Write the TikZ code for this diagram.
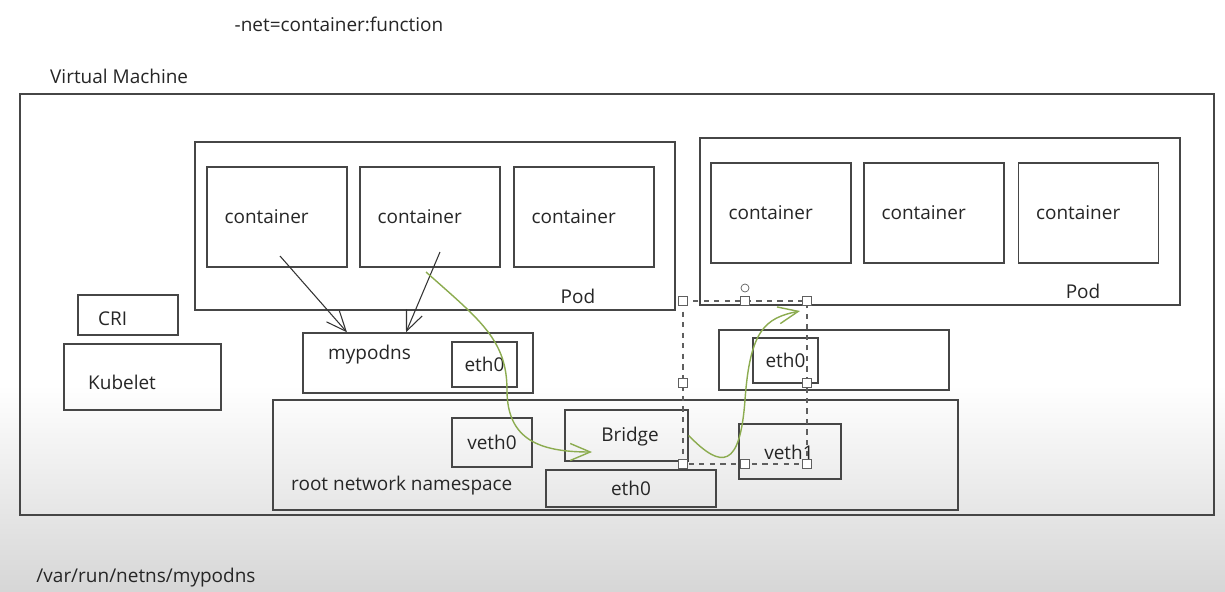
\documentclass[tikz,border=0pt]{standalone}
\usepackage{fontspec}
\setmainfont{Open Sans}
\usetikzlibrary{arrows.meta}
\definecolor{boxLine}{RGB}{70,70,70}
\definecolor{pathGreen}{RGB}{140,172,80}
\definecolor{handleLine}{RGB}{95,95,95}
\definecolor{floorGray}{RGB}{214,214,214}

\begin{document}
\begin{tikzpicture}[
  x=0.02cm, y=-0.02cm,
  every node/.style={font=\fontsize{10.8}{13}\selectfont, text=black!85},
  box/.style={draw=boxLine, line width=0.8pt, inner sep=0pt},
  container box/.style={box, minimum width=2.8cm, minimum height=2cm},
  pod box/.style={box, minimum width=9.6cm, minimum height=3.36cm},
  ns box/.style={box, minimum width=4.6cm, minimum height=1.2cm},
  eth box/.style={box, minimum width=1.3cm, minimum height=0.9cm},
  link/.style={draw=black!80, line width=0.6pt,
    -{Straight Barb[length=4mm,width=3.4mm]}},
  flow/.style={draw=pathGreen, line width=0.8pt,
    -{Straight Barb[length=4mm,width=3.4mm]}},
  handle/.style={draw=handleLine, fill=white, line width=0.4pt,
    minimum size=0.18cm, inner sep=0pt},
  selection/.style={draw=handleLine, dashed, line width=0.6pt}
]
\useasboundingbox (0,0) rectangle (1225,592);
% background of the screenshot
\fill[white] (0,0) rectangle (1225,592);
\shade[top color=white, bottom color=floorGray] (0,385) rectangle (1225,592);

% outer machine
\node[box, minimum width=23.88cm, minimum height=8.42cm] (vm) at (617,304.5) {};
\node[anchor=west] (vmlabel) at (44,76) {Virtual Machine};
\node (netflag) at (339,24) {-net=container:function};
\node (netnspath) at (146,578) {/var/run/netns/mypodns};

% pods and their containers
\node[pod box] (pod1) at (435,226) {};
\foreach \k/\x in {1/277,2/430,3/584}
  \node[container box, text width=2.1cm] (c1\k) at (\x,217) {container};
\node (pod1label) at (578,296) {Pod};
\node[pod box, minimum height=3.34cm] (pod2) at (940,221.5) {};
\foreach \k/\x in {1/781,2/934,3/1088.5}
  \node[container box, text width=2.1cm] (c2\k) at (\x,213) {container};
\node (pod2label) at (1083,291) {Pod};

% node agents
\node[box, minimum width=2cm, minimum height=0.8cm] (cri) at (128,315) {};
\node[anchor=west] (crilabel) at (92,319) {CRI};
\node[box, minimum width=3.14cm, minimum height=1.32cm] (kubelet) at (142.5,377) {};
\node[anchor=west] (kubeletlabel) at (82,382) {Kubelet};

% namespaces
\node[ns box] (mypodns) at (418,363) {};
\node[anchor=west] (mypodnslabel) at (322,355) {mypodns};
\node[eth box] (eth0a) at (484.5,364.5) {eth0};
\node[ns box] (pod2ns) at (834,360) {};
\node[eth box] (eth0b) at (785.5,360.5) {eth0};

\node[box, minimum width=13.7cm, minimum height=2.2cm] (rootns) at (615.5,455) {};
\node[anchor=west] (rootlabel) at (285,486) {root network namespace};
\node[box, minimum width=1.6cm, minimum height=0.98cm] (veth0) at (492,442.5) {veth0};
\node[box, minimum width=2.46cm, minimum height=1.02cm] (bridge) at (626.5,435.5) {};
\node (bridgelabel) at (630,437) {Bridge};
\node[box, minimum width=3.4cm, minimum height=0.74cm] (eth0root) at (631,488.5) {eth0};
\node[box, minimum width=2.04cm, minimum height=1.1cm] (veth1) at (790,451.5) {};
\node (veth1label) at (789,452) {veth1};

% containers share mypodns
\coordinate (c11out) at (280,256);
\coordinate (c12out) at (440,252);
\draw[link] (c11out) -- (mypodns.north west -| 347,0);
\draw[link] (c12out) -- (mypodns.north west -| 406,0);

% packet path
\coordinate (flowstart) at (426,272);
\coordinate (bridgein) at (592,452);
\coordinate (pod2in) at (800,311);
\draw[flow] (flowstart) .. controls (480,320) and (507,340) .. (507,390)
  .. controls (507,440) and (540,452) .. (bridgein);
\draw[flow] (bridge.east) .. controls (722,470) and (740,468) .. (745,400)
  .. controls (750,330) and (765,318) .. (pod2in);

% selection frame
\draw[selection] (683,301) rectangle (807,464);
\foreach \x/\y in {683/301,745/301,807/301,683/383,807/383,683/464,745/464,807/464}
  \node[handle] (h\x-\y) at (\x,\y) {};
\node[draw=handleLine, circle, line width=0.4pt, minimum size=0.16cm, inner sep=0pt]
  (rotor) at (745,288) {};
\end{tikzpicture}
\end{document}
